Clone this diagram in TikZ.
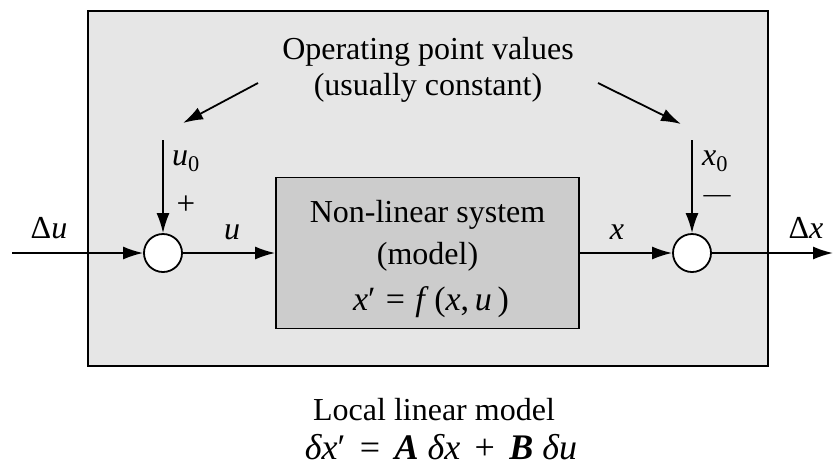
\documentclass[tikz,border=0pt]{standalone}
\usepackage{fontspec}
\setmainfont{Liberation Serif}
\usetikzlibrary{arrows.meta,positioning}
\definecolor{framegray}{RGB}{230,230,230}
\definecolor{sysgray}{RGB}{204,204,204}
\newcommand{\eqsp}{\hspace{.3em}}

\begin{document}
\begin{tikzpicture}[
  x=1pt, y=-1pt,
  font=\fontsize{32}{36}\selectfont,
  line width=1.8pt,
  framebox/.style={rectangle, draw, fill=framegray, minimum width=680pt, minimum height=355pt, inner sep=0pt},
  sysbox/.style={rectangle, draw, fill=sysgray, minimum width=303pt, minimum height=151pt, inner sep=0pt},
  sum/.style={circle, draw, fill=white, minimum size=38pt, inner sep=0pt},
  lbl/.style={inner sep=0pt},
  eqn/.style={inner sep=0pt, font=\fontsize{34}{36}\selectfont},
  arr/.style={-{Latex[length=20pt, width=13pt]}},
]
  \useasboundingbox (0,0) rectangle (834,469);
  \node[framebox] (frame) at (428,188.5) {};
  \node[lbl, align=center] (opval) at (428,70) {Operating point values\\(usually constant)};
  \node[sysbox] (sys) at (427.5,253) {};
  \node[lbl] (systext) at (427.5,215) {Non-linear system};
  \node[lbl] (model) at (427.5,257) {(model)};
  \node[eqn] (sysfun) at (431,302) {\textit{x}′\eqsp=\eqsp\textit{f\/}\,(\textit{x},\,\textit{u}\,)};
  \node[sum] (sumu) at (163,253) {};
  \node[sum] (sumx) at (692,253) {};
  \coordinate (in) at (12,253);
  \coordinate (out) at (833,253);
  \coordinate (u0top) at (163,140);
  \coordinate (x0top) at (692,140);
  \coordinate (ltail) at (258,83);
  \coordinate (lhead) at (183,123);
  \coordinate (rtail) at (598,83);
  \coordinate (rhead) at (681,124);
  % signal labels
  \node[lbl] (du) at (49,228) {Δ\textit{u}};
  \node[lbl] (ulbl) at (232,232) {\textit{u}};
  \node[lbl] (xlbl) at (617,232) {\textit{x}};
  \node[lbl] (dx) at (806,228) {Δ\textit{x}};
  \node[lbl] (u0) at (186,161) {\textit{u}\textsubscript{0}};
  \node[lbl] (x0) at (715,161) {\textit{x}\textsubscript{0}};
  \node[lbl, font=\fontsize{33}{34}\selectfont] (plus) at (186,205) {+};
  \node[lbl, font=\fontsize{27}{28}\selectfont] (minus) at (717,199) {—};
  \node[lbl] (local) at (434,410) {Local linear model};
  \node[eqn, font=\fontsize{36}{38}\selectfont] (localfun) at (441,447) {\textit{δx}′\hspace{.4em}=\hspace{.4em}{\bfseries\itshape A}\ \textit{δx}\hspace{.4em}+\hspace{.4em}{\bfseries\itshape B}\ \textit{δu}};
  \draw[arr] (in) -- (sumu);
  \draw[arr] (sumu) -- (sys);
  \draw[arr] (sys) -- (sumx);
  \draw[arr] (sumx) -- (out);
  \draw[arr] (u0top) -- (sumu);
  \draw[arr] (x0top) -- (sumx);
  \draw[arr] (ltail) -- (lhead);
  \draw[arr] (rtail) -- (rhead);
\end{tikzpicture}
\end{document}
